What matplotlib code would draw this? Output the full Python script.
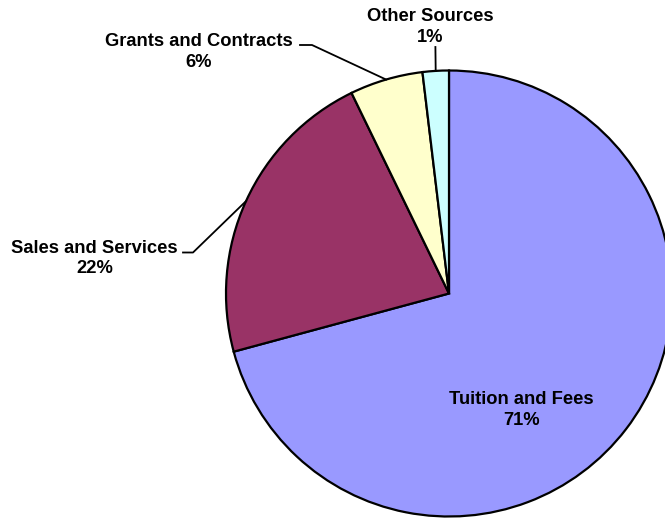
import numpy as np
import matplotlib
matplotlib.use("Agg")
import matplotlib.pyplot as plt

# revenue shares (percent)
categories = ["Tuition and Fees", "Sales and Services", "Grants and Contracts", "Other Sources"]
values = [70.8, 22.0, 5.3, 1.9]
pct_labels = ["71%", "22%", "6%", "1%"]
colors = ["#9999FF", "#993366", "#FFFFCC", "#CCFFFF"]

W, H = 665, 518
plt.rcParams['font.family'] = ['Liberation Sans', 'DejaVu Sans']

fig = plt.figure(figsize=(W / 100, H / 100), dpi=100)
ax = fig.add_axes([0, 0, 1, 1])

cx, cy, r = 449, H - 293.5, 223
wedges, _ = ax.pie(values, startangle=90, counterclock=False, colors=colors,
                   center=(cx, cy), radius=r, frame=True,
                   wedgeprops=dict(edgecolor='black', linewidth=1.6))
ax.set_xlim(0, W)
ax.set_ylim(0, H)
ax.set_aspect('equal')
ax.axis('off')

# label anchors (pixels from top-left) and leader elbows
label_pos = {
    "Tuition and Fees": (521.5, 410),
    "Sales and Services": (94.5, 258.5),
    "Grants and Contracts": (199, 52),
    "Other Sources": (430.5, 27),
}
elbows = {
    "Sales and Services": [(183, 252.5), (193, 252.5)],
    "Grants and Contracts": [(300, 45), (312, 45)],
    "Other Sources": [(435.4, 47)],
}

for w, name, pct in zip(wedges, categories, pct_labels):
    lx, ly = label_pos[name]
    ax.text(lx, H - ly, name + "\n" + pct, ha='center', va='center',
            multialignment='center', fontsize=13.2, fontweight='bold',
            linespacing=1.25)
    if name in elbows:
        mid = np.deg2rad((w.theta1 + w.theta2) / 2)
        ex, ey = cx + r * np.cos(mid), cy + r * np.sin(mid)
        pts = [(x, H - y) for x, y in elbows[name]] + [(ex, ey)]
        xs, ys = zip(*pts)
        ax.plot(xs, ys, color='black', linewidth=1.3)

fig.savefig("out.png", dpi=100)
